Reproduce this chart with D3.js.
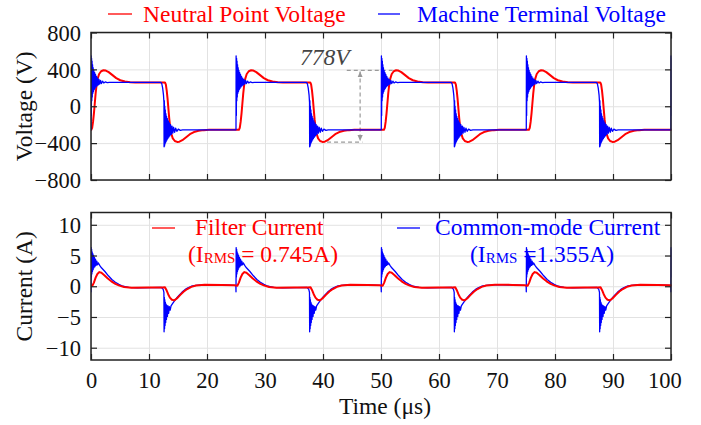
<!DOCTYPE html>
<html>
<head>
<meta charset="utf-8">
<script src="https://cdn.jsdelivr.net/npm/d3@7"></script>
<style>
body{margin:0;background:#fff;}
svg{display:block;}
</style>
</head>
<body>
<div id="chart"></div>
<script>
var serif = '"Liberation Serif","Times New Roman",serif';

// tick values
var xTickVals = [0,10,20,30,40,50,60,70,80,90,100];
var voltTicks = [-800,-400,0,400,800];
var currTicks = [-10,-5,0,5,10];

// switching instants (us)
var termRise = [0, 25.0, 50.05, 75.05, 100];
var termFall = [12.6, 37.7, 62.65, 87.7];
var neutRise = [0.05, 25.5, 50.5, 75.5, 100.5];
var neutFall = [12.75, 37.8, 62.75, 87.8];

// shape of each edge as [dt, value]
// machine terminal voltage (V)
var termRiseV = [[-0.02,-256],[0,-256],[0.02,545],[0.06,-100],[0.1,520],[0.14,60],[0.18,490],[0.22,100],[0.27,450],[0.32,140],[0.37,420],[0.43,160],[0.49,390],[0.56,180],[0.63,365],[0.7,195],[0.78,345],[0.86,210],[0.95,325],[1.05,222],[1.15,305],[1.26,232],[1.38,290],[1.5,240],[1.65,280],[1.8,246],[2.0,272],[2.2,252],[2.45,264],[2.8,256],[3.2,259]];
var termFallV = [[-0.55,258],[-0.4,245],[-0.25,200],[-0.1,120],[-0.02,40],[0,-440],[0.04,60],[0.08,-430],[0.12,0],[0.16,-410],[0.21,-40],[0.26,-395],[0.31,-80],[0.37,-380],[0.43,-110],[0.5,-365],[0.57,-135],[0.65,-350],[0.73,-160],[0.82,-335],[0.91,-180],[1.01,-320],[1.12,-200],[1.24,-305],[1.37,-215],[1.5,-292],[1.65,-228],[1.82,-282],[2.0,-238],[2.2,-272],[2.45,-248],[2.8,-262],[3.2,-256]];
// neutral point voltage (V)
var neutRiseV = [[-0.5,-256],[0,-256],[0.15,-235],[0.3,-170],[0.45,-80],[0.6,30],[0.75,140],[0.9,225],[1.1,300],[1.35,350],[1.7,380],[2.1,390],[2.5,387],[3.0,370],[3.6,340],[4.3,305],[5.0,282],[5.8,268],[6.7,261],[7.6,258]];
var neutFallV = [[0,258],[0.15,237],[0.3,172],[0.45,82],[0.6,-30],[0.75,-140],[0.9,-225],[1.1,-298],[1.35,-348],[1.7,-377],[2.1,-387],[2.5,-384],[3.0,-368],[3.6,-338],[4.3,-303],[5.0,-280],[5.8,-266],[6.7,-259],[7.6,-256]];
// common-mode current (A)
var cmRiseI = [[-0.3,0.15],[-0.03,0.1],[0,-0.9],[0.03,6.3],[0.07,1.5],[0.11,6.0],[0.15,2.0],[0.2,5.6],[0.25,2.4],[0.31,5.3],[0.37,2.7],[0.44,5.0],[0.51,3.0],[0.59,4.7],[0.68,3.2],[0.78,4.4],[0.88,3.4],[1.0,4.1],[1.12,3.5],[1.25,3.8],[1.5,3.4],[1.8,3.0],[2.4,2.4],[3.0,1.7],[3.6,1.1],[4.2,0.65],[4.8,0.3],[5.5,0.0],[6.5,-0.18],[8,-0.25],[10.5,-0.22]];
var cmFallI = [[-0.45,-0.2],[-0.15,-0.5],[-0.03,-1.0],[0,-7.4],[0.04,-1.8],[0.08,-6.9],[0.12,-2.2],[0.17,-6.4],[0.22,-2.6],[0.28,-5.9],[0.34,-2.9],[0.41,-5.4],[0.49,-3.1],[0.58,-4.9],[0.68,-3.2],[0.79,-4.4],[0.91,-3.3],[1.05,-3.9],[1.2,-3.2],[1.4,-2.9],[1.7,-2.5],[2.1,-2.0],[2.6,-1.45],[3.1,-0.95],[3.6,-0.55],[4.1,-0.25],[4.7,0.0],[5.5,0.15],[7,0.25],[10,0.2]];
// filter current (A)
var filtRiseI = [[-0.3,0.15],[0.25,0.1],[0.5,0.6],[0.8,1.4],[1.1,2.0],[1.45,2.3],[1.8,2.2],[2.3,1.8],[2.9,1.25],[3.5,0.8],[4.2,0.4],[4.9,0.1],[5.7,-0.12],[7,-0.25],[10,-0.22]];
var filtFallI = [[-0.3,-0.2],[0.15,-0.15],[0.4,-0.6],[0.7,-1.3],[1.0,-1.85],[1.35,-2.2],[1.75,-2.3],[2.2,-2.0],[2.8,-1.4],[3.4,-0.85],[4.0,-0.45],[4.7,-0.1],[5.5,0.12],[7,0.25],[10,0.22]];

// peak-to-peak marker
var p2pLabel = '778V';
var p2pHigh = 389, p2pLow = -389;

// place each edge shape at its switching instants
function trace(parts){
	var pts = [];
	parts.forEach(function(p){
		p.times.forEach(function(t0){
			p.shape.forEach(function(d){ pts.push([t0+d[0], d[1]]); });
		});
	});
	pts.sort(function(a,b){ return a[0]-b[0]; });
	return pts;
}

var neutV = trace([{times:neutRise, shape:neutRiseV},{times:neutFall, shape:neutFallV}]);
var termV = trace([{times:termRise, shape:termRiseV},{times:termFall, shape:termFallV}]);
var filtI = trace([{times:termRise, shape:filtRiseI},{times:termFall, shape:filtFallI}]);
var cmI = trace([{times:termRise, shape:cmRiseI},{times:termFall, shape:cmFallI}]);

var RED = '#ff0000', BLUE = '#0000ff';

var svg = d3.select('#chart').append('svg')
	.attr('width',701).attr('height',425)
	.style('font-family',serif);

var x = d3.scaleLinear().domain([0,100]).range([91,671]);

var panels = [
	{id:'v', y:d3.scaleLinear().domain([-800,800]).range([180,32.5]), top:32.5, bottom:180,
	 ticks:voltTicks, label:'Voltage (V)', xLabels:false,
	 series:[{d:neutV, c:RED, w:2},{d:termV, c:BLUE, w:1.3}]},
	{id:'i', y:d3.scaleLinear().domain([-12,12]).range([360,212.5]), top:212.5, bottom:360,
	 ticks:currTicks, label:'Current (A)', xLabels:true,
	 series:[{d:cmI, c:BLUE, w:1.3},{d:filtI, c:RED, w:2}]}
];

var defs = svg.append('defs');
defs.append('marker').attr('id','arr')
	.attr('viewBox','-6 -3 6 6').attr('refX',0).attr('refY',0)
	.attr('markerWidth',6).attr('markerHeight',6)
	.attr('markerUnits','userSpaceOnUse')
	.attr('orient','auto-start-reverse')
	.append('path').attr('d','M0,0L-6,-2.6L-6,2.6Z').attr('fill','#999');

panels.forEach(function(p){
	var y = p.y;
	var h = p.bottom - p.top;

	// grid
	var grid = svg.append('g');
	grid.append('g').attr('transform','translate(0,'+p.bottom+')')
		.call(d3.axisBottom(x).tickValues(xTickVals).tickSize(-h).tickFormat(''));
	grid.append('g').attr('transform','translate(91,0)')
		.call(d3.axisLeft(y).tickValues(p.ticks).tickSize(-580).tickFormat(''));
	grid.selectAll('.domain').remove();
	grid.selectAll('line').attr('stroke','#e2e2e2').attr('stroke-width',1);

	defs.append('clipPath').attr('id','clip-'+p.id)
		.append('rect').attr('x',91).attr('y',p.top).attr('width',580.5).attr('height',h);
});

// annotation in the voltage panel
var yV = panels[0].y;
var ann = svg.append('g').attr('stroke','#9a9a9a').attr('stroke-width',1.2).attr('fill','none');
ann.append('line').attr('x1',x(44.1)).attr('x2',x(52)).attr('y1',yV(p2pHigh)).attr('y2',yV(p2pHigh))
	.attr('stroke-dasharray','4,3');
ann.append('line').attr('x1',x(40.7)).attr('x2',x(46.8)).attr('y1',yV(p2pLow)).attr('y2',yV(p2pLow))
	.attr('stroke-dasharray','4,3');
ann.append('line').attr('x1',x(46.4)).attr('x2',x(46.4)).attr('y1',yV(p2pHigh)+1).attr('y2',yV(p2pLow)-1)
	.attr('stroke-dasharray','4,3')
	.attr('marker-start','url(#arr)').attr('marker-end','url(#arr)');
svg.append('text').attr('x',300).attr('y',65)
	.attr('font-size',23.5).attr('font-style','italic').attr('fill','#444')
	.text(p2pLabel);

// legends (drawn under the traces, as in the figure)
function legendLine(x1,x2,yy,c){
	svg.append('line').attr('x1',x1).attr('x2',x2).attr('y1',yy).attr('y2',yy)
		.attr('stroke',c).attr('stroke-width',1.3);
}
function legendText(xx,yy,c,s){
	return svg.append('text').attr('x',xx).attr('y',yy).attr('font-size',23.5).attr('fill',c).text(s);
}
legendLine(108,132,14,RED);
legendText(143,22,RED,'Neutral Point Voltage');
legendLine(378,400,14,BLUE);
legendText(417,22,BLUE,'Machine Terminal Voltage');

legendLine(152,175,228,RED);
legendText(195,235,RED,'Filter Current');
legendLine(397,420,228,BLUE);
legendText(435,235,BLUE,'Common-mode Current');

function rmsText(xx,c,val){
	var t = svg.append('text').attr('x',xx).attr('y',262).attr('font-size',23.5).attr('fill',c);
	t.append('tspan').text('(I');
	t.append('tspan').attr('font-size',15).attr('dy',0.5).text('RMS');
	t.append('tspan').attr('dy',-0.5).text(val);
}
rmsText(188,RED,' = 0.745A)');
rmsText(470,BLUE,' =1.355A)');

// traces, frame, ticks
panels.forEach(function(p){
	var y = p.y;
	var line = d3.line().x(function(d){ return x(d[0]); }).y(function(d){ return y(d[1]); });
	var lg = svg.append('g').attr('clip-path','url(#clip-'+p.id+')');
	p.series.forEach(function(s){
		lg.append('path').datum(s.d)
			.attr('d',line).attr('fill','none')
			.attr('stroke',s.c).attr('stroke-width',s.w)
			.attr('stroke-linejoin','round');
	});

	svg.append('rect').attr('x',91).attr('y',p.top).attr('width',580).attr('height',p.bottom-p.top)
		.attr('fill','none').attr('stroke','#222').attr('stroke-width',1.5);

	var axes = svg.append('g').style('color','#222');
	var left = axes.append('g').attr('transform','translate(91,0)')
		.call(d3.axisLeft(y).tickValues(p.ticks).tickSize(-6).tickPadding(10));
	axes.append('g').attr('transform','translate(671,0)')
		.call(d3.axisRight(y).tickValues(p.ticks).tickSize(-6).tickFormat(''));
	axes.append('g').attr('transform','translate(0,'+p.top+')')
		.call(d3.axisTop(x).tickValues(xTickVals).tickSize(-6).tickFormat(''));
	var bottom = axes.append('g').attr('transform','translate(0,'+p.bottom+')')
		.call(d3.axisBottom(x).tickValues(xTickVals).tickSize(-6).tickPadding(12.5)
			.tickFormat(p.xLabels ? d3.format('d') : ''));
	axes.selectAll('.domain').remove();
	axes.selectAll('line').attr('stroke-width',1.2);
	axes.selectAll('g').attr('font-family',serif).attr('font-size',22.5);
	axes.selectAll('text').attr('fill','#111');
	left.selectAll('text').attr('dy','0.34em');
	bottom.selectAll('text').filter(function(d){ return d === 100; }).attr('dx','-0.3em');

	svg.append('text')
		.attr('transform','translate(32,'+((p.top+p.bottom)/2)+') rotate(-90)')
		.attr('text-anchor','middle').attr('font-size',23.5).attr('fill','#111')
		.text(p.label);
});

svg.append('text').attr('x',385).attr('y',414)
	.attr('text-anchor','middle').attr('font-size',23.5).attr('fill','#111')
	.text('Time (μs)');
</script>
</body>
</html>
